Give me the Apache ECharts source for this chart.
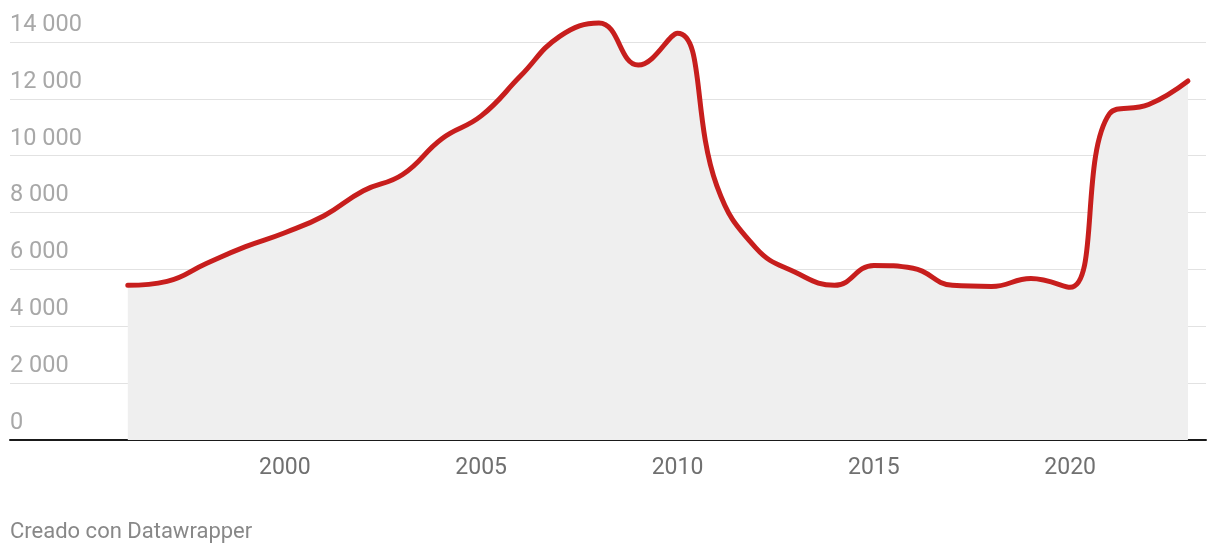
<!DOCTYPE html>
<html><head><meta charset="utf-8">
<script src="https://cdn.jsdelivr.net/npm/echarts@6/dist/echarts.min.js"></script>
<style>html,body{margin:0;padding:0;background:#fff}#c{width:1220px;height:558px}</style>
</head><body><div id="c"></div>
<script>
const years = [1996,1997,1998,1999,2000,2001,2002,2003,2004,2005,2006,2007,2008,2009,2010,2011,2012,2013,2014,2015,2016,2017,2018,2019,2020,2021,2022,2023];
const values = [5440,5580,6210,6800,7290,7890,8770,9340,10600,11400,12800,14200,14670,13190,14310,8950,6750,5900,5440,6140,6040,5440,5400,5680,5370,11470,11800,12630];
const xTicks = [2000,2005,2010,2015,2020];
const yTicks = [0,2000,4000,6000,8000,10000,12000,14000];
const credit = 'Creado con Datawrapper';

const chart = echarts.init(document.getElementById('c'), null, {renderer:'canvas'});
chart.setOption({
  animation:false,
  textStyle:{fontFamily:'Roboto'},
  grid:{left:10,right:14,top:42,bottom:118},
  xAxis:{type:'value',min:1993,max:2023.46,
    axisLine:{show:true,onZero:false,lineStyle:{color:'#1a1a1a',width:2}},
    axisTick:{show:false},splitLine:{show:false},
    axisLabel:{customValues:xTicks,color:'#707070',fontSize:23,margin:17,fontFamily:'Roboto',
      formatter:v=>String(v)}},
  yAxis:{type:'value',min:0,max:14000,interval:2000,
    axisLine:{show:false},axisTick:{show:false},
    splitLine:{lineStyle:{color:'#e2e2e2',width:1}},
    axisLabel:{inside:true,color:'#a8a8a8',fontSize:23.5,fontFamily:'Roboto',verticalAlign:'bottom',
      margin:0,padding:[0,0,5,0],
      formatter:v=>v===0?'0':String(v).replace(/\B(?=(\d{3})+(?!\d))/g,' ')}},
  graphic:[{type:'text',left:10,top:521,style:{text:credit,fill:'#888',font:'22px Roboto'}}],
  series:[{type:'line',data:years.map((y,i)=>[y,values[i]]),
    smooth:0.45,showSymbol:false,symbol:'none',clip:false,
    lineStyle:{color:'#c71e1d',width:5,cap:'round',join:'round'},
    areaStyle:{color:'#efefef',opacity:1},z:3}]
});
</script></body></html>
